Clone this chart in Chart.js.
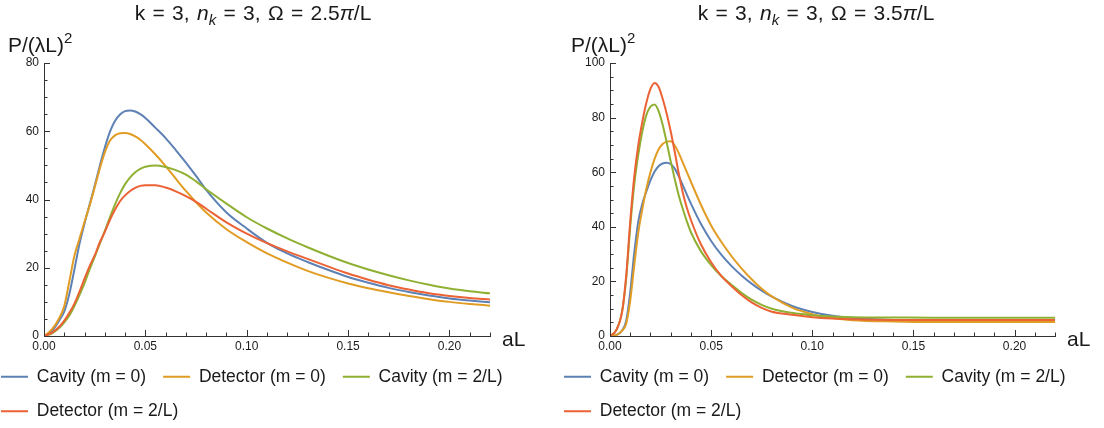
<!DOCTYPE html>
<html>
<head>
<meta charset="utf-8">
<script src="https://cdn.jsdelivr.net/npm/chart.js@4/dist/chart.umd.min.js"></script>
<style>
    html, body { margin: 0; padding: 0; background: #fff; width: 1104px; height: 428px; overflow: hidden; }
    .panel { position: absolute; top: 0; width: 557px; height: 430px; }
    #leftPanel { left: -16px; }
    #rightPanel { left: 547px; }
</style>
</head>
<body>
<div class="panel" id="leftPanel"><canvas id="leftChart" width="557" height="430"></canvas></div>
<div class="panel" id="rightPanel"><canvas id="rightChart" width="557" height="430"></canvas></div>
<script>
// series names, same for both panels
const seriesNames = ['Cavity (m = 0)', 'Detector (m = 0)', 'Cavity (m = 2/L)', 'Detector (m = 2/L)'];

// left panel, Omega = 2.5 pi / L
const aLLeft = [0, 0.004, 0.008, 0.01, 0.0125, 0.015, 0.0175, 0.02, 0.0225, 0.025, 0.0275, 0.03, 0.0325, 0.035, 0.0375, 0.04, 0.0425, 0.045, 0.0475, 0.05,
                0.055, 0.06, 0.065, 0.07, 0.075, 0.08, 0.09, 0.1, 0.11, 0.12, 0.13, 0.14, 0.15, 0.16, 0.17, 0.18, 0.19, 0.2, 0.21, 0.22];
const cavity0Left = [0, 1.5, 5.0, 7.2, 12.3, 19.5, 27.0, 33.0, 38.5, 44.0, 49.8, 55.2, 59.8, 63.0, 64.9, 65.9, 66.1, 65.8, 65.0, 63.9,
                     61.0, 58.0, 54.5, 50.8, 46.9, 42.8, 36.2, 31.5, 27.3, 24.2, 21.7, 19.4, 17.3, 15.6, 14.1, 12.9, 11.9, 11.0, 10.4, 9.9];
const detector0Left = [0, 2.0, 5.8, 8.8, 16.0, 23.5, 28.5, 33.5, 38.2, 43.5, 49.0, 53.8, 57.2, 58.8, 59.4, 59.5, 59.2, 58.5, 57.5, 56.2,
                       53.2, 49.8, 46.1, 42.5, 39.2, 36.2, 31.3, 27.5, 24.2, 21.5, 19.1, 17.1, 15.4, 14.0, 12.8, 11.7, 10.8, 10.0, 9.4, 8.9];
const cavity2Left = [0, 0.8, 2.6, 4.0, 6.0, 8.8, 12.0, 15.5, 19.5, 23.2, 27.0, 30.8, 34.8, 38.5, 41.8, 44.5, 46.5, 48.0, 49.0, 49.6,
                     50.0, 49.5, 48.6, 47.3, 45.3, 43.0, 38.8, 34.8, 31.5, 28.6, 26.0, 23.6, 21.4, 19.5, 17.8, 16.3, 15.0, 13.9, 13.1, 12.5];
const detector2Left = [0, 1.0, 3.0, 4.5, 6.8, 9.5, 13.0, 16.8, 20.5, 23.6, 27.4, 30.5, 34.0, 37.0, 39.5, 41.2, 42.5, 43.4, 44.0, 44.2,
                       44.2, 43.5, 42.4, 41.0, 39.3, 37.3, 33.3, 30.0, 27.2, 24.8, 22.6, 20.4, 18.3, 16.5, 14.9, 13.6, 12.5, 11.7, 11.1, 10.7];

// right panel, Omega = 3.5 pi / L
const aLRight = [0, 0.003, 0.006, 0.008, 0.01, 0.012, 0.014, 0.016, 0.018, 0.02, 0.022, 0.024, 0.026, 0.028, 0.03, 0.032, 0.034, 0.036, 0.038, 0.04,
                 0.045, 0.05, 0.055, 0.06, 0.065, 0.07, 0.075, 0.08, 0.09, 0.1, 0.11, 0.12, 0.14, 0.16, 0.18, 0.2, 0.22];
const cavity0Right = [0, 0.3, 2.0, 5.5, 16.0, 30.5, 42.0, 48.5, 53.0, 57.0, 60.2, 62.2, 63.2, 63.5, 63.0, 61.3, 58.5, 55.2, 51.8, 48.5,
                      41.0, 34.8, 29.8, 25.7, 22.2, 19.2, 16.6, 14.4, 11.0, 8.8, 7.4, 6.6, 5.9, 5.7, 5.6, 5.6, 5.6];
const detector0Right = [0, 0.3, 2.0, 4.5, 13.0, 26.0, 38.0, 46.5, 54.0, 60.0, 64.8, 68.3, 70.3, 71.2, 71.3, 69.8, 67.0, 63.5, 60.0, 56.5,
                        48.0, 40.5, 34.5, 29.3, 24.8, 20.8, 17.3, 14.5, 10.4, 8.0, 6.6, 5.8, 5.3, 5.1, 5.1, 5.1, 5.1];
const cavity2Right = [0, 2.0, 9.0, 21.0, 40.0, 55.5, 66.5, 75.0, 81.0, 84.0, 84.8, 82.5, 77.5, 71.0, 64.0, 57.5, 51.5, 46.5, 42.0, 38.0,
                      31.0, 26.0, 22.0, 18.8, 15.8, 13.3, 11.4, 10.0, 8.5, 7.6, 7.1, 6.9, 6.8, 6.7, 6.7, 6.7, 6.7];
const detector2Right = [0, 2.0, 9.0, 22.0, 42.0, 58.5, 70.0, 78.5, 85.5, 90.5, 92.7, 91.3, 87.0, 81.5, 75.0, 67.5, 59.5, 52.5, 47.0, 42.5,
                        33.5, 27.0, 22.0, 18.3, 15.0, 12.3, 10.3, 8.9, 7.8, 6.9, 6.4, 6.1, 5.9, 5.9, 5.9, 5.9, 5.9];

const lineColors = ['#5E81B5', '#E19C24', '#8FB032', '#EB6235'];
const axisColor = '#333';
const textColor = '#1a1a1a';
const fontFamily = '"Liberation Sans", Arial, sans-serif';

Chart.defaults.font.family = fontFamily;
Chart.defaults.color = textColor;

// draws a run of text pieces with their own style (italic, sub, sup);
// spaceExtra widens every blank a little, like the original typesetting
function drawRich(ctx, parts, x, y, centered, spaceExtra) {
    const fontOf = p => (p.italic ? 'italic ' : '') + (p.small ? '15px ' : '21px ') + fontFamily;
    const widthOf = p => ctx.measureText(p.t).width + (p.t.split(' ').length - 1) * spaceExtra;
    let total = 0;
    parts.forEach(p => { ctx.font = fontOf(p); total += widthOf(p); });
    let cx = centered ? x - total / 2 : x;
    ctx.textAlign = 'left';
    ctx.textBaseline = 'alphabetic';
    parts.forEach(p => {
        ctx.font = fontOf(p);
        // draw word by word so the blanks get the extra width
        let wx = cx;
        p.t.split(' ').forEach((w, i) => {
            if (i > 0) wx += ctx.measureText(' ').width + spaceExtra;
            ctx.fillText(w, wx, y + (p.dy || 0));
            wx += ctx.measureText(w).width;
        });
        cx += widthOf(p);
    });
}

const decorPlugin = {
    id: 'decor',
    afterDraw(chart, args, opts) {
        const ctx = chart.ctx;
        const xs = chart.scales.x;
        const ys = chart.scales.y;
        const area = chart.chartArea;
        ctx.save();

        // inward tick marks, major and minor
        ctx.strokeStyle = axisColor;
        ctx.lineWidth = 1;
        ctx.beginPath();
        for (let i = 0; i <= 22; i++) {
            const px = Math.round(xs.getPixelForValue(i / 100)) + 0.5;
            const len = i % 5 === 0 ? 6 : 3.5;
            ctx.moveTo(px, area.bottom);
            ctx.lineTo(px, area.bottom - len);
        }
        for (let v = 0; v <= opts.yMax; v += 5) {
            const py = Math.round(ys.getPixelForValue(v)) + 0.5;
            const len = v % 20 === 0 ? 6 : 3.5;
            ctx.moveTo(area.left, py);
            ctx.lineTo(area.left + len, py);
        }
        ctx.stroke();

        ctx.fillStyle = textColor;
        // title
        drawRich(ctx, [
            { t: 'k = 3, ' },
            { t: 'n', italic: true },
            { t: 'k', italic: true, small: true, dy: 5 },
            { t: ' = 3, \u03A9 = ' + opts.omega },
            { t: '\u03C0', italic: true },
            { t: '/L' }
        ], opts.titleX, 19.5, true, 1.5);
        // y axis label
        drawRich(ctx, [
            { t: 'P/(\u03BBL)' },
            { t: '2', small: true, dy: -9 }
        ], opts.yLabelX, 52, false, 0);
        // x axis label
        drawRich(ctx, [{ t: 'aL' }], area.right + 12, area.bottom + 9.5, false, 0);
        ctx.restore();
    }
};

function makeChart(canvasId, xValues, seriesList, yMax, omega, yAxisWidth, rightPad) {
    const ctx = document.getElementById(canvasId).getContext('2d');
    const datasets = seriesList.map((vals, k) => ({
        label: seriesNames[k],
        data: xValues.map((x, i) => ({ x: x, y: vals[i] })),
        borderColor: lineColors[k],
        backgroundColor: lineColors[k],
        borderWidth: 2,
        pointRadius: 0,
        pointHoverRadius: 0,
        cubicInterpolationMode: 'monotone',
        order: 4 - k
    }));
    return new Chart(ctx, {
        type: 'line',
        data: { datasets: datasets },
        options: {
            responsive: false,
            animation: false,
            layout: { padding: { top: 63, left: 0, right: 0, bottom: 0 } },
            scales: {
                x: {
                    type: 'linear',
                    min: 0,
                    max: 0.22,
                    grid: { display: false, drawTicks: false },
                    border: { display: true, color: axisColor, width: 1 },
                    ticks: {
                        stepSize: 0.05,
                        includeBounds: false,
                        autoSkip: false,
                        maxRotation: 0,
                        padding: 3,
                        color: textColor,
                        font: { size: 12 },
                        callback: v => v.toFixed(2)
                    },
                    afterFit: s => { s.height = 15; }
                },
                y: {
                    type: 'linear',
                    min: 0,
                    max: yMax,
                    grid: { display: false, drawTicks: false },
                    border: { display: true, color: axisColor, width: 1 },
                    ticks: {
                        stepSize: 20,
                        padding: 5,
                        color: textColor,
                        font: { size: 12 }
                    },
                    afterFit: s => { s.width = yAxisWidth; }
                },
                yPad: {
                    type: 'linear',
                    position: 'right',
                    grid: { display: false, drawTicks: false },
                    border: { display: false },
                    ticks: { display: false },
                    afterFit: s => { s.width = rightPad; }
                }
            },
            plugins: {
                legend: {
                    position: 'bottom',
                    align: 'start',
                    labels: {
                        boxWidth: 27,
                        boxHeight: 0,
                        padding: 17,
                        color: textColor,
                        font: { size: 17.5 },
                        sort: (a, b) => a.datasetIndex - b.datasetIndex
                    }
                },
                tooltip: { enabled: false },
                decor: { yMax: yMax, omega: omega, titleX: 269, yLabelX: 24 }
            }
        },
        plugins: [decorPlugin]
    });
}

makeChart('leftChart', aLLeft, [cavity0Left, detector0Left, cavity2Left, detector2Left], 80, '2.5', 60, 51);
makeChart('rightChart', aLRight, [cavity0Right, detector0Right, cavity2Right, detector2Right], 100, '3.5', 63, 49);
</script>
</body>
</html>
